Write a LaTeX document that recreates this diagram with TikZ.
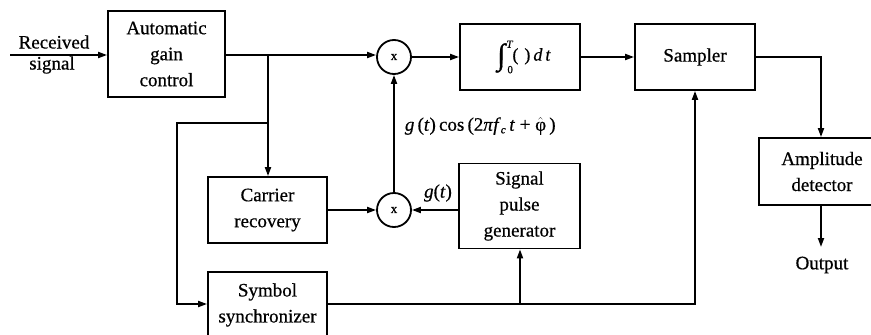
\documentclass[tikz,border=0pt]{standalone}
\usepackage{amsmath}
\usepackage{fontspec}
\setmainfont{Liberation Serif}[FakeBold=0.6]
\usetikzlibrary{arrows.meta}
\newcommand{\smallsz}[1]{\mbox{\fontsize{11}{11}\selectfont #1}}
\begin{document}
\begin{tikzpicture}[x=1pt,y=-1pt,
  line width=1.8pt,
  arr/.style={-{Triangle[length=9pt,width=6pt]}},
  blk/.style={draw, line width=1.8pt, align=center, inner sep=0pt,
              font=\fontsize{19}{26}\selectfont},
  mult/.style={draw, circle, line width=1.8pt, minimum size=34pt, inner sep=0pt,
              font=\fontsize{13}{13}\selectfont},
  lbl/.style={inner sep=0pt, font=\fontsize{19}{24}\selectfont}]
\useasboundingbox (0,0) rectangle (871,335);
% blocks
\node[blk, minimum width=117pt, minimum height=86pt] (agc) at (166.5,54) {Automatic\\gain\\control};
\node[blk, minimum width=119pt, minimum height=66pt] (car) at (267.5,210) {Carrier\\recovery};
\node[blk, minimum width=119pt, minimum height=66pt, anchor=north] (sync) at (267.5,271) {Symbol\\synchronizer};
\node[blk, minimum width=120pt, minimum height=66pt, font=\fontsize{18}{22}\selectfont] (int) at (520,57)
  {\hspace*{8pt}$\mbox{\fontsize{30}{30}\selectfont\raisebox{-4pt}{∫}}_{\kern2pt\smallsz{0}}^{\kern1pt\smallsz{\itshape T}}$\kern-1pt(\,\,)\,\textit{d\,t}};
\node[blk, minimum width=120pt, minimum height=66pt] (samp) at (695,57) {Sampler};
\node[blk, minimum width=121pt, minimum height=85pt] (pulse) at (519.5,206) {Signal\\pulse\\generator};
\node[blk, minimum width=126pt, minimum height=67pt] (amp) at (822,171.5) {Amplitude\\detector};
% multipliers
\node[mult] (m1) at (394,57) {x};
\node[mult] (m2) at (394,210) {x};
% labels
\node[lbl] (rec) at (54,42) {Received};
\node[lbl] (sig) at (52,65) {signal};
\node[lbl] (out) at (822,265) {Output};
\node[lbl, anchor=west] (glbl) at (404,126)
  {\textit{g}\,(\textit{t})\,cos\,(2\textit{π}\textit{f}$_{\smallsz{\itshape c}}$\,\textit{t} + $\hat{\text{φ}}$\,)};
\node[lbl] (gt) at (438,193) {\textit{g}(\textit{t})};
% coordinates
\coordinate (in) at (10,55);
\coordinate (b1) at (268,55);
\coordinate (b2) at (268,123);
\coordinate (l1) at (177,123);
\coordinate (l2) at (177,304);
\coordinate (s1) at (695,304);
\coordinate (s2) at (520,304);
\coordinate (a1) at (821,57);
\coordinate (oend) at (821,247);
% connectors
\draw[arr] (in) -- (agc.west |- in);
\draw[arr] (agc.east |- b1) -- (m1.west |- b1);
\draw[arr] (b1) -- (car.north -| b1);
\draw[arr] (b2) -- (l1) -- (l2) -- (sync.west |- l2);
\draw[arr] (car.east) -- (m2.west);
\draw[arr] (pulse.west |- m2) -- (m2.east);
\draw[arr] (m2.north) -- (m1.south);
\draw[arr] (m1.east) -- (int.west |- m1);
\draw[arr] (int.east) -- (samp.west);
\draw[arr] (samp.east) -- (a1) -- (amp.north -| a1);
\draw[arr] (amp.south -| a1) -- (oend);
\draw[arr] (sync.east |- l2) -- (s1) -- (samp.south -| s1);
\draw[arr] (s2) -- (pulse.south -| s2);
\end{tikzpicture}
\end{document}
